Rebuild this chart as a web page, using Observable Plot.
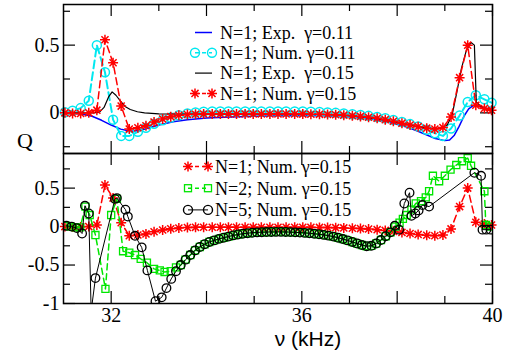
<!DOCTYPE html>
<html><head><meta charset="utf-8">
<script src="https://cdn.jsdelivr.net/npm/d3@7"></script>
<script src="https://cdn.jsdelivr.net/npm/@observablehq/plot@0.6"></script>
<style>
body{margin:0;background:#fff;}
#chart{position:relative;width:517px;height:350px;}
#chart svg{position:absolute;left:0;top:0;}
</style></head><body><div id="chart"></div>
<script>
// ---- data ----
const nuNum = [31.03,31.19,31.36,31.53,31.70,31.87,32.04,32.21,32.38,32.56,
  32.73,32.90,33.08,33.25,33.42,33.60,33.77,33.94,34.12,34.29,
  34.46,34.63,34.81,34.98,35.15,35.33,35.50,35.67,35.85,36.02,
  36.19,36.37,36.54,36.71,36.88,37.06,37.23,37.40,37.58,37.75,
  37.92,38.10,38.27,38.44,38.62,38.79,38.96,39.13,39.31,39.48,
  39.65,39.83,39.98];
const qNum015 = [0.00,-0.005,-0.005,0.00,0.02,0.54,0.37,0.05,-0.12,-0.11,
  -0.095,-0.068,-0.045,-0.028,-0.018,-0.012,-0.01,-0.008,-0.008,-0.008,
  -0.008,-0.008,-0.008,-0.008,-0.008,-0.008,-0.008,-0.008,-0.008,-0.009,
  -0.01,-0.011,-0.012,-0.014,-0.017,-0.021,-0.026,-0.032,-0.04,-0.05,
  -0.062,-0.076,-0.09,-0.102,-0.113,-0.12,-0.108,-0.03,0.26,0.50,
  0.056,0.032,0.02];
const qNum011 = [0.005,0.015,0.035,0.09,0.50,0.30,-0.05,-0.17,-0.17,-0.14,
  -0.11,-0.08,-0.055,-0.035,-0.018,-0.005,0.003,0.008,0.01,0.01,
  0.01,0.01,0.01,0.01,0.01,0.01,0.01,0.01,0.01,0.01,
  0.008,0.006,0.003,0.0,-0.005,-0.01,-0.016,-0.022,-0.03,-0.04,
  -0.052,-0.067,-0.083,-0.10,-0.125,-0.15,-0.17,-0.115,-0.02,0.08,
  0.13,0.10,0.075];
const nuExp011 = [31.0,31.2,31.4,31.6,31.8,32.0,32.2,32.4,32.6,32.8,33.0,33.3,33.6,34.0,34.5,35.0,35.5,36.0,36.5,37.0,37.5,37.9,38.2,38.4,38.6,38.8,39.0,39.1,39.2,39.3,39.4,39.5,39.6,39.7,39.8,40.0];
const qExp011 = [0,-0.003,-0.01,-0.025,-0.055,-0.09,-0.12,-0.135,-0.13,-0.11,-0.09,-0.065,-0.05,-0.038,-0.03,-0.025,-0.022,-0.02,-0.022,-0.03,-0.048,-0.075,-0.105,-0.13,-0.16,-0.19,-0.205,-0.2,-0.165,-0.1,-0.025,0.03,0.055,0.05,0.04,0.022];
const nuExp015 = [31.0,31.6,31.75,31.85,31.95,32.02,32.1,32.2,32.3,32.4,32.55,32.7,33.0,34.0,35.0,36.0,36.5,37.0,37.5,38.0,38.4,38.7,38.9,39.05,39.15,39.25,39.35,39.45,39.55,39.62,39.66,39.75,39.85,40.0];
const qExp015 = [0,0,0.003,0.04,0.12,0.155,0.13,0.085,0.045,0.025,0.008,0.0,-0.008,-0.01,-0.01,-0.01,-0.012,-0.02,-0.04,-0.07,-0.1,-0.115,-0.115,-0.09,-0.02,0.15,0.33,0.46,0.52,0.50,0.08,0.05,0.035,0.02];
// shared smooth band where N=2 and N=5 coincide
const nuBand = [33.46,33.56,33.66,33.76,33.86,33.96,34.06,34.16,34.26,34.36,34.46,34.56,34.66,34.76,34.86,34.96,35.06,35.16,35.26,35.36,35.46,35.56,35.66,35.76,35.86,35.96,36.06,36.16,36.26,36.36,36.46,36.56,36.66,36.76,36.86,36.96,37.06,37.16,37.26,37.36,37.46,37.56,37.66,37.76,37.86];
const qBand = [-0.5,-0.43,-0.37,-0.31,-0.265,-0.23,-0.2,-0.18,-0.16,-0.145,-0.13,-0.115,-0.103,-0.093,-0.086,-0.08,-0.076,-0.073,-0.071,-0.07,-0.069,-0.069,-0.07,-0.072,-0.075,-0.078,-0.082,-0.087,-0.093,-0.1,-0.108,-0.118,-0.13,-0.145,-0.162,-0.18,-0.2,-0.22,-0.24,-0.255,-0.25,-0.22,-0.175,-0.125,-0.075];
const nuN5Left = [31.06,31.17,31.28,31.39,31.45,31.53,31.58,31.67,32.08,32.12,32.3,32.35,32.5,32.64,32.76,32.93,33.06,33.16,33.26,33.36];
const qN5Left = [0.01,0.0,-0.02,-0.09,0.27,0.17,-1.1,-0.67,0.36,0.37,0.22,0.13,-0.12,-0.27,-0.57,-0.97,-0.92,-0.8,-0.68,-0.58];
const nuN5Right = [37.95,38.04,38.15,38.26,38.30,38.38,38.45,38.53,38.67,39.62,39.76,39.79,39.87,39.96];
const qN5Right = [0.01,-0.04,0.30,0.44,0.14,0.17,0.21,0.28,0.26,0.70,0.66,-0.04,-0.04,-0.04];
const nuN2Left = [31.05,31.15,31.25,31.35,31.46,31.55,31.67,31.88,32.0,32.12,32.25,32.38,32.5,32.62,32.75,32.9,33.02,33.12,33.25,33.36];
const qN2Left = [0.01,0.0,-0.01,-0.01,0.26,0.15,-0.11,-0.81,0.15,0.36,-0.32,-0.34,-0.37,-0.42,-0.47,-0.55,-0.57,-0.59,-0.58,-0.53];
const nuN2Right = [37.96,38.05,38.12,38.2,38.3,38.39,38.5,38.6,38.67,38.75,38.88,39.0,39.12,39.24,39.36,39.48,39.55,39.83,39.86,39.95];
const qN2Right = [0.0,0.05,0.1,0.15,0.22,0.3,0.33,0.38,0.46,0.66,0.59,0.66,0.74,0.8,0.85,0.89,0.79,0.46,0.02,0.0];

const xMajor = [32,34,36,38,40];
const xMinor = [33,35,37,39];
const xLabels = [32,36,40];
const yTopMajor = [0,0.5], yTopMinor = [-0.25,0.25,0.75];
const yBotMajor = [-1,-0.5,0,0.5], yBotMinor = [-0.75,-0.25,0.25,0.75];
const legendTop = ["N=1; Exp.  γ=0.11","N=1; Num. γ=0.11","N=1; Exp.  γ=0.15","N=1; Num. γ=0.15"];
const legendBot = ["N=1; Num. γ=0.15","N=2; Num. γ=0.15","N=5; Num. γ=0.15"];

// ---- helpers ----
const rows = (xs, ys) => xs.map((x,i)=>({x, y: ys[i]}));
const red = rows(nuNum, qNum015), cyanD = rows(nuNum, qNum011);
const blueD = rows(nuExp011, qExp011), blackD = rows(nuExp015, qExp015);
const n5 = rows([...nuN5Left, ...nuBand, ...nuN5Right], [...qN5Left, ...qBand, ...qN5Right]);
const n2 = rows([...nuN2Left, ...nuBand, ...nuN2Right], [...qN2Left, ...qBand, ...qN2Right]);

const C = {red:"#ff0000", cyan:"#00e8f0", blue:"#0000ff", green:"#00e600", black:"#000000"};
const SERIF = "'Liberation Serif','Times New Roman',serif";
const W = 517, ML = 63, MR = 25, FW = W - ML - MR;
const star8 = {draw(ctx, size){ const r = Math.sqrt(size/Math.PI); for(let i=0;i<4;i++){const a=i*Math.PI/4, c=r*Math.cos(a), s=r*Math.sin(a); ctx.moveTo(c,s); ctx.lineTo(-c,-s);} }};

function frameTicks(H, yMaj, yMin){
  const s = {stroke:"black", strokeWidth:1.2};
  return [
    Plot.tickX(xMajor,{x:d=>d, insetTop:H-12, ...s}),
    Plot.tickX(xMajor,{x:d=>d, insetBottom:H-12, ...s}),
    Plot.tickX(xMinor,{x:d=>d, insetTop:H-7, ...s}),
    Plot.tickX(xMinor,{x:d=>d, insetBottom:H-7, ...s}),
    Plot.tickY(yMaj,{y:d=>d, insetRight:FW-12, ...s}),
    Plot.tickY(yMaj,{y:d=>d, insetLeft:FW-12, ...s}),
    Plot.tickY(yMin,{y:d=>d, insetRight:FW-7, ...s}),
    Plot.tickY(yMin,{y:d=>d, insetLeft:FW-7, ...s})
  ];
}
const plotStyle = {background:"transparent", fontFamily:SERIF, fontSize:"20px", overflow:"visible", color:"black"};

// ---- bottom panel ----
const botMT = 153, botMB = 47, botH = 350;
const bottomPlot = Plot.plot({
  width:W, height:botH, marginTop:botMT, marginBottom:botMB, marginLeft:ML, marginRight:MR,
  style: plotStyle,
  x:{domain:[31,40], axis:null},
  y:{domain:[-1,0.95], axis:null},
  marks:[
    ...frameTicks(botH-botMT-botMB, yBotMajor, yBotMinor),
    Plot.line(red,{x:"x",y:"y",stroke:C.red,strokeWidth:1.5,strokeDasharray:"7,4",clip:true}),
    Plot.dot(red,{x:"x",y:"y",symbol:star8,r:5,stroke:C.red,fill:"none",strokeWidth:1.5}),
    Plot.line(n2,{x:"x",y:"y",stroke:C.green,strokeWidth:1.5,strokeDasharray:"6,4",clip:true}),
    Plot.dot(n2,{x:"x",y:"y",symbol:"square",r:4,stroke:C.green,fill:"none",strokeWidth:1.3,clip:true}),
    Plot.line(n5,{x:"x",y:"y",stroke:C.black,strokeWidth:1,clip:true}),
    Plot.dot(n5,{x:"x",y:"y",r:4.3,stroke:C.black,fill:"none",strokeWidth:1.3,clip:true}),
    Plot.text(yBotMajor,{y:d=>d,text:d=>String(d),frameAnchor:"left",textAnchor:"end",dx:-4,fontSize:20}),
    Plot.text(xLabels,{x:d=>d,text:d=>String(d),frameAnchor:"bottom",lineAnchor:"top",dy:4,fontSize:20}),
    Plot.frame({stroke:"black",strokeWidth:1.5})
  ]
});

// ---- top panel ----
const topH = 157, topMT = 4, topMB = 4;
const topPlot = Plot.plot({
  width:W, height:topH, marginTop:topMT, marginBottom:topMB, marginLeft:ML, marginRight:MR,
  style: plotStyle,
  x:{domain:[31,40], axis:null},
  y:{domain:[-0.3,0.8], axis:null},
  marks:[
    ...frameTicks(topH-topMT-topMB, yTopMajor, yTopMinor),
    Plot.line(blueD,{x:"x",y:"y",stroke:C.blue,strokeWidth:1.5,clip:true}),
    Plot.line(cyanD,{x:"x",y:"y",stroke:C.cyan,strokeWidth:2,strokeDasharray:"8,4",clip:true}),
    Plot.dot(cyanD,{x:"x",y:"y",r:4.5,stroke:C.cyan,fill:"none",strokeWidth:1.5}),
    Plot.line(blackD,{x:"x",y:"y",stroke:C.black,strokeWidth:1.2,clip:true}),
    Plot.line(red,{x:"x",y:"y",stroke:C.red,strokeWidth:1.5,strokeDasharray:"7,4",clip:true}),
    Plot.dot(red,{x:"x",y:"y",symbol:star8,r:5,stroke:C.red,fill:"none",strokeWidth:1.5}),
    Plot.text(yTopMajor,{y:d=>d,text:d=>String(d),frameAnchor:"left",textAnchor:"end",dx:-4,fontSize:20}),
    Plot.frame({stroke:"black",strokeWidth:1.5})
  ]
});

const root = document.getElementById("chart");
root.appendChild(bottomPlot);
root.appendChild(topPlot);

// ---- legends & axis titles ----
function marker(g, type, x, y, color){
  if(type==="circle") g.append("circle").attr("cx",x).attr("cy",y).attr("r",4.5).attr("fill","none").attr("stroke",color).attr("stroke-width",1.4);
  else if(type==="square") g.append("rect").attr("x",x-3.5).attr("y",y-3.5).attr("width",7).attr("height",7).attr("fill","none").attr("stroke",color).attr("stroke-width",1.3);
  else if(type==="star") g.append("path").attr("transform",`translate(${x},${y})`).attr("d",d3.symbol().type(star8).size(Math.PI*25)()).attr("fill","none").attr("stroke",color).attr("stroke-width",1.5);
}
function legend(svg, items, x0, x1, tx, y0, dy){
  const g = d3.select(svg).append("g").attr("font-family",SERIF).attr("font-size",18).attr("text-anchor","start");
  items.forEach((it,i)=>{
    const y = y0 + i*dy;
    g.append("line").attr("x1",x0).attr("x2",x1).attr("y1",y).attr("y2",y).attr("stroke",it.color).attr("stroke-width",it.w||1.5).attr("stroke-dasharray",it.dash||null);
    if(it.marker){ marker(g,it.marker,x0,y,it.color); marker(g,it.marker,x1,y,it.color); }
    g.append("text").attr("x",tx).attr("y",y).attr("dy","0.35em").attr("text-anchor","start").style("white-space","pre").attr("fill","black").text(it.label);
  });
}
legend(topPlot, [
  {label:legendTop[0], color:C.blue},
  {label:legendTop[1], color:C.cyan, marker:"circle", dash:"4,3"},
  {label:legendTop[2], color:C.black, w:1.2},
  {label:legendTop[3], color:C.red, marker:"star", dash:"4,3"}
], 195, 212, 220, 32.5, 20.3);
legend(bottomPlot, [
  {label:legendBot[0], color:C.red, marker:"star", dash:"4,3"},
  {label:legendBot[1], color:C.green, marker:"square", dash:"4,3"},
  {label:legendBot[2], color:C.black, marker:"circle", w:1}
], 188, 208, 215, 166.5, 21.7);

d3.select(topPlot).append("text").attr("x",25).attr("y",140).attr("dy","0.35em").attr("text-anchor","middle")
  .attr("font-family",SERIF).attr("font-size",22).text("Q");
d3.select(bottomPlot).append("text").attr("x",308).attr("y",346).attr("text-anchor","middle")
  .attr("font-family","'Liberation Sans',Arial,sans-serif").attr("font-size",21).text("ν (kHz)");
</script></body></html>
